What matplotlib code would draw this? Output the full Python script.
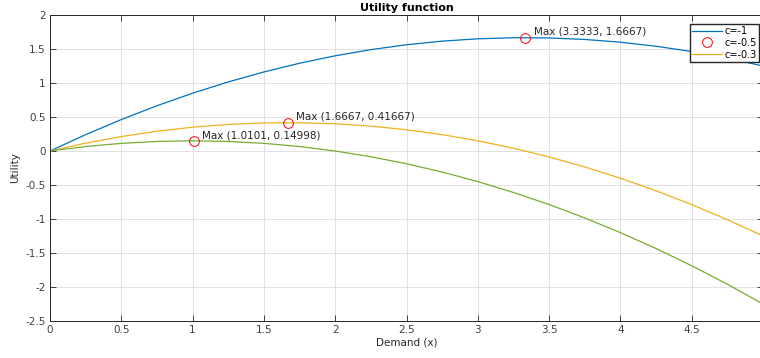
import matplotlib.pyplot as plt

# demand grid and utility values
demand = [0, 0.25, 0.5, 0.75, 1, 1.25, 1.5, 1.75, 2, 2.25, 2.5,
          2.75, 3, 3.25, 3.5, 3.75, 4, 4.25, 4.5, 4.75, 5]
u_c1 = [0, 0.2406, 0.4625, 0.6656, 0.85, 1.0156, 1.1625, 1.2906, 1.4, 1.4906, 1.5625,
        1.6156, 1.65, 1.6656, 1.6625, 1.6406, 1.6, 1.5406, 1.4625, 1.3656, 1.25]
u_c05 = [0, 0.1156, 0.2125, 0.2906, 0.35, 0.3906, 0.4125, 0.4156, 0.4, 0.3656, 0.3125,
         0.2406, 0.15, 0.0406, -0.0875, -0.2344, -0.4, -0.5844, -0.7875, -1.0094, -1.25]
u_c03 = [0, 0.0656, 0.1125, 0.1406, 0.15, 0.1406, 0.1125, 0.0656, 0, -0.0844, -0.1875,
         -0.3094, -0.45, -0.6094, -0.7875, -0.9844, -1.2, -1.4344, -1.6875, -1.9594, -2.25]

max_x = [3.3333, 1.6667, 1.0101]
max_y = [1.6667, 0.41667, 0.14998]
max_txt = ['Max (3.3333, 1.6667)', 'Max (1.6667, 0.41667)', 'Max (1.0101, 0.14998)']

labels = ['c=-1', 'c=-0.5', 'c=-0.3']
colors = ['#0072BD', '#EDB120', '#77AC30']
curves = [u_c1, u_c05, u_c03]

plt.rcParams['font.family'] = 'DejaVu Sans'
fig = plt.figure(figsize=(7.6, 3.58), dpi=100)
# the original is cropped just past the right spine
ax = fig.add_axes([50 / 760, 37 / 358, 713 / 760, 306 / 358])

handles = []
for i in range(3):
    ln, = ax.plot(demand, curves[i], color=colors[i], lw=0.9)
    mk, = ax.plot(max_x[i], max_y[i], 'o', mfc='none', mec='red', ms=7, mew=0.7)
    handles.append(ln)
    handles.append(mk)
    ax.annotate(max_txt[i], (max_x[i], max_y[i]), xytext=(6, 2),
                textcoords='offset points', fontsize=7.5, color='#262626')

# MATLAB style legend takes the first three graphics objects
ax.legend(handles[:3], labels, loc='upper right', fontsize=7, frameon=True,
          fancybox=False, edgecolor='#262626', framealpha=1,
          bbox_to_anchor=(759 / 760, 1 - 24 / 358), bbox_transform=fig.transFigure,
          borderaxespad=0, handlelength=3.1, handletextpad=0.3, borderpad=0.2,
          labelspacing=0.2)

ax.set_xlim(0, 5)
ax.set_ylim(-2.5, 2)
ax.set_xticks([0, 0.5, 1, 1.5, 2, 2.5, 3, 3.5, 4, 4.5])
ax.set_xticklabels(['0', '0.5', '1', '1.5', '2', '2.5', '3', '3.5', '4', '4.5'])
ax.set_yticks([-2.5, -2, -1.5, -1, -0.5, 0, 0.5, 1, 1.5, 2])
ax.set_yticklabels(['-2.5', '-2', '-1.5', '-1', '-0.5', '0', '0.5', '1', '1.5', '2'])
ax.grid(True, color='#dcdcdc', lw=0.6)
ax.set_axisbelow(True)
ax.tick_params(direction='in', length=4, width=0.6, colors='#262626',
               labelsize=7.5, top=True, right=True, pad=3)
ax.tick_params(labelcolor='#404040')
for s in ax.spines.values():
    s.set_color('#262626')
    s.set_linewidth(0.7)

ax.set_title('Utility function', fontsize=8, fontweight='bold', color='#000000', pad=3)
ax.set_xlabel('Demand (x)', fontsize=7.5, color='#262626', labelpad=2)
ax.set_ylabel('Utility', fontsize=7.5, color='#262626', labelpad=4)

fig.savefig('out.png', dpi=100)
